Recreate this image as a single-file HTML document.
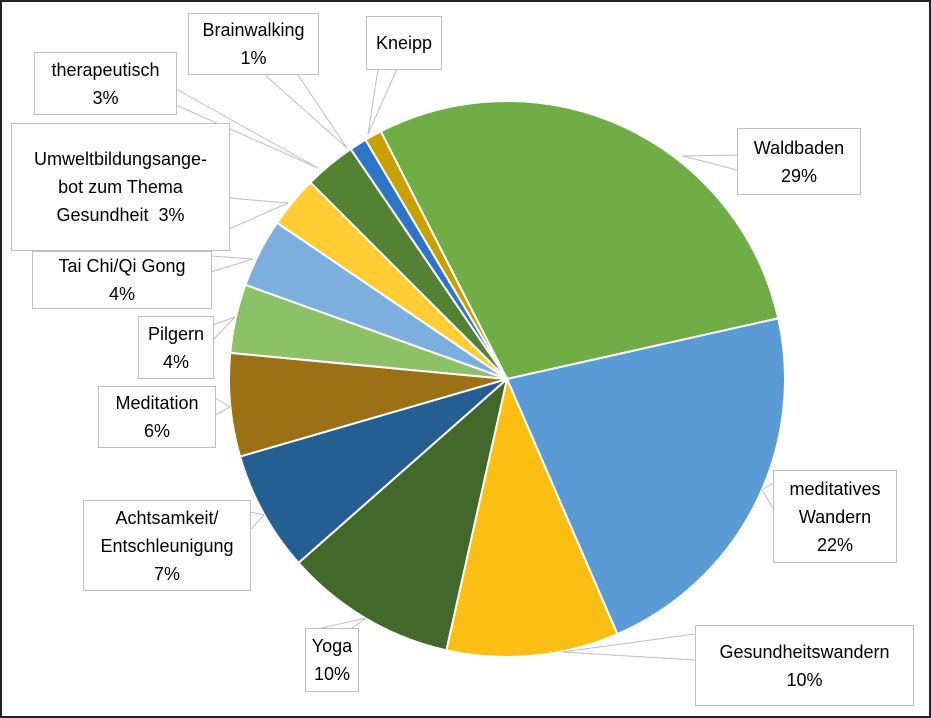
<!DOCTYPE html>
<html><head><meta charset="utf-8">
<style>
html,body{margin:0;padding:0;background:#fff;}
#wrap{position:relative;width:931px;height:718px;overflow:hidden;font-family:"Liberation Sans",sans-serif;}
#frame{position:absolute;left:0;top:0;width:927px;height:714px;border:2px solid #222;box-sizing:content-box;}
.lbl{position:absolute;background:#fff;border:1px solid #bfbfbf;box-sizing:border-box;font-size:18px;line-height:28px;color:#000;text-align:center;display:flex;flex-direction:column;justify-content:center;}
</style></head>
<body>
<div id="wrap">
<div id="frame"></div>
<svg id="svg" width="931" height="718" style="position:absolute;left:0;top:0"></svg>
<div class="lbl" style="left:188px;top:13px;width:131px;height:62px"><span>Brainwalking</span><span>1%</span></div>
<div class="lbl" style="left:366px;top:16px;width:76px;height:54px"><span>Kneipp</span></div>
<div class="lbl" style="left:34px;top:52px;width:143px;height:63px"><span>therapeutisch</span><span>3%</span></div>
<div class="lbl" style="left:11px;top:123px;width:219px;height:128px;line-height:28px"><span>Umweltbildungsange-</span><span>bot zum Thema</span><span>Gesundheit&nbsp; 3%</span></div>
<div class="lbl" style="left:32px;top:251px;width:180px;height:58px"><span>Tai Chi/Qi Gong</span><span>4%</span></div>
<div class="lbl" style="left:138px;top:316px;width:76px;height:63px"><span>Pilgern</span><span>4%</span></div>
<div class="lbl" style="left:98px;top:386px;width:118px;height:62px"><span>Meditation</span><span>6%</span></div>
<div class="lbl" style="left:83px;top:500px;width:168px;height:91px"><span>Achtsamkeit/</span><span>Entschleunigung</span><span>7%</span></div>
<div class="lbl" style="left:305px;top:628px;width:54px;height:64px"><span>Yoga</span><span>10%</span></div>
<div class="lbl" style="left:695px;top:625px;width:219px;height:81px"><span>Gesundheitswandern</span><span>10%</span></div>
<div class="lbl" style="left:773px;top:470px;width:124px;height:93px"><span>meditatives</span><span>Wandern</span><span>22%</span></div>
<div class="lbl" style="left:737px;top:128px;width:124px;height:67px"><span>Waldbaden</span><span>29%</span></div>
</div>
<script>
const categories=["Waldbaden","meditatives Wandern","Gesundheitswandern","Yoga","Achtsamkeit/Entschleunigung","Meditation","Pilgern","Tai Chi/Qi Gong","Umweltbildungsangebot","therapeutisch","Brainwalking","Kneipp"];
const values=[29,22,10,10,7,6,4,4,3,3,1,1];
const colors=["#70ad47","#5b9bd5","#fbbf14","#43682b","#255e91","#9c7014","#8cc168","#7cafdd","#ffcd33","#548235","#2e75c6","#c9a000"];
const startDeg=-27;
const cx=507,cy=379,r=278;
const svg=document.getElementById('svg');
const NS='http://www.w3.org/2000/svg';
const total=values.reduce((a,b)=>a+b,0);
function pt(deg){const a=deg*Math.PI/180;return [cx+r*Math.sin(a),cy-r*Math.cos(a)];}
let acc=startDeg;
values.forEach((v,i)=>{
  const sweep=v/total*360;
  const p1=pt(acc),p2=pt(acc+sweep);
  const large=sweep>180?1:0;
  const path=document.createElementNS(NS,'path');
  path.setAttribute('d',`M${cx},${cy} L${p1[0]},${p1[1]} A${r},${r} 0 ${large} 1 ${p2[0]},${p2[1]} Z`);
  path.setAttribute('fill',colors[i]);
  path.setAttribute('stroke','#fff');
  path.setAttribute('stroke-width','2');
  
  
  svg.appendChild(path);
  acc+=sweep;
});
const leaders=[
 [[378,69],[368,134],[397,69]],
 [[265,75],[347,148],[298,75]],
 [[176,89],[318,168],[176,105]],
 [[229,198],[288,203],[229,229]],
 [[211,256],[253,259],[211,272]],
 [[213,325],[235,317],[213,340]],
 [[215,398],[230,407],[215,415]],
 [[250,512],[264,515],[250,530]],
 [[322,628],[366,618],[352,628]],
 [[695,634],[562,652],[695,660]],
 [[773,483],[762,490],[773,508]],
 [[737,155],[683,156],[737,170]]
];
leaders.forEach(l=>{
  const pl=document.createElementNS(NS,'polyline');
  pl.setAttribute('points',l.map(p=>p.join(',')).join(' '));
  pl.setAttribute('fill','none');
  pl.setAttribute('stroke','#bfbfbf');
  pl.setAttribute('stroke-width','1');
  
  
  svg.appendChild(pl);
});
</script>
</body></html>
